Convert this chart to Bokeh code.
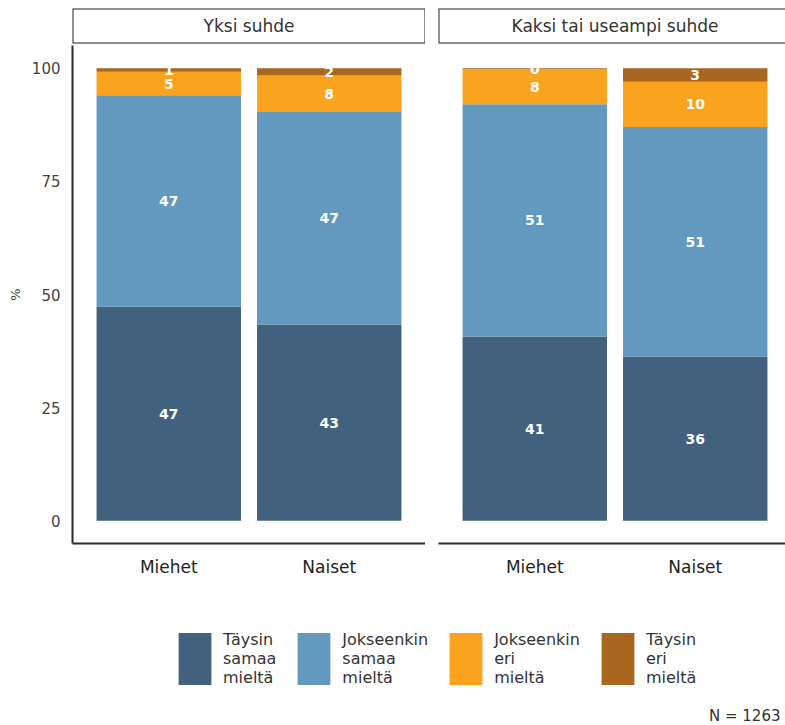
from bokeh.plotting import figure
from bokeh.layouts import column, row
from bokeh.models import (Range1d, FixedTicker, Label, Legend, LegendItem,
                          ColumnDataSource, BoxAnnotation)
from bokeh.core.properties import value
from bokeh.embed import file_html
from bokeh.resources import INLINE

# ---------------- data ----------------
groups = ["Yksi suhde", "Kaksi tai useampi suhde"]
genders = ["Miehet", "Naiset"]
categories = ["Täysin samaa mieltä", "Jokseenkin samaa mieltä",
              "Jokseenkin eri mieltä", "Täysin eri mieltä"]
colors = ["#41617f", "#6399be", "#f9a31f", "#a8661f"]

yksi_taysin_samaa = [47.3, 43.4]
yksi_jokseenkin_samaa = [46.7, 46.9]
yksi_jokseenkin_eri = [5.2, 8.1]
yksi_taysin_eri = [0.8, 1.6]

kaksi_taysin_samaa = [40.7, 36.3]
kaksi_jokseenkin_samaa = [51.3, 50.7]
kaksi_jokseenkin_eri = [7.8, 10.0]
kaksi_taysin_eri = [0.2, 3.0]

y_ticks = [0, 25, 50, 75, 100]
n_text = "N = 1263"

panel_values = [
    [yksi_taysin_samaa, yksi_jokseenkin_samaa, yksi_jokseenkin_eri, yksi_taysin_eri],
    [kaksi_taysin_samaa, kaksi_jokseenkin_samaa, kaksi_jokseenkin_eri, kaksi_taysin_eri],
]

FONT = "DejaVu Sans"
AXIS_COL = "#2b2b2b"

# ---------------- geometry ----------------
TOTAL_W = 785
TOTAL_H = 725
LEFT = 72            # y-axis area of first panel
PANEL_W = 353        # full panel frame width
GAP = 13
STRIP_TOP = 8
STRIP_FRAME = 35
STRIP_BOT = 2
STRIP_H = STRIP_TOP + STRIP_FRAME + STRIP_BOT
PLOT_FRAME_H = 498
PLOT_BOTTOM = 50
P1_W = LEFT + PANEL_W
P2_W = TOTAL_W - P1_W
P2_FRAME = P2_W - GAP
VIS = P2_FRAME / PANEL_W   # visible fraction of the 2nd panel
LEG_H = TOTAL_H - STRIP_H - PLOT_FRAME_H - PLOT_BOTTOM

X_LO, X_HI = 0.4, 2.6
keys = ["c%d" % i for i in range(len(categories))]


def make_strip(title, width, left, frac):
    s = figure(width=width, height=STRIP_H, min_border_left=left, min_border_right=0,
               min_border_top=STRIP_TOP, min_border_bottom=STRIP_BOT,
               x_range=Range1d(0, frac), y_range=Range1d(0, 1),
               x_axis_location=None, y_axis_location=None,
               toolbar_location=None, output_backend="svg", outline_line_color=None)
    s.grid.visible = False
    s.add_layout(BoxAnnotation(left=0, right=1, bottom=0, top=1, fill_color="white",
                               fill_alpha=1, line_color="#222222", line_alpha=1,
                               line_width=2))
    s.add_layout(Label(x=0.5, y=0.5, text=title, text_align="center",
                       text_baseline="middle", text_font=FONT,
                       text_font_size="17px", text_color="#333333"))
    return s


def make_panel(vals, width, left, x_hi, show_y):
    p = figure(width=width, height=PLOT_FRAME_H + PLOT_BOTTOM,
               min_border_left=left, min_border_right=0, min_border_top=0,
               min_border_bottom=PLOT_BOTTOM,
               x_range=Range1d(X_LO, x_hi), y_range=Range1d(-5, 105),
               y_axis_location="left" if show_y else None,
               toolbar_location=None, output_backend="svg", outline_line_color=None)
    p.grid.visible = False
    xs = [i + 1 for i in range(len(genders))]
    data = {"x": xs}
    for k, v in zip(keys, vals):
        data[k] = v
    src = ColumnDataSource(data)
    p.vbar_stack(keys, x="x", width=0.9, color=colors, line_color=None, source=src)

    # labels at segment midpoints
    lx, ly, lt = [], [], []
    for j, x in enumerate(xs):
        base = 0.0
        for v in vals:
            lx.append(x)
            ly.append(base + v[j] / 2)
            lt.append(str(int(round(v[j]))))
            base += v[j]
    p.text(x=lx, y=ly, text=lt, text_color="white", text_font=value(FONT),
           text_font_style="bold", text_font_size="14px",
           text_align="center", text_baseline="middle")

    xa = p.xaxis[0]
    xa.ticker = FixedTicker(ticks=xs)
    xa.major_label_overrides = {x: g for x, g in zip(xs, genders)}
    xa.major_tick_line_color = None
    xa.minor_tick_line_color = None
    xa.major_tick_out = 0
    xa.major_label_standoff = 13
    xa.axis_line_color = AXIS_COL
    xa.axis_line_width = 2
    xa.major_label_text_font = FONT
    xa.major_label_text_font_size = "17px"
    xa.major_label_text_color = "#222222"

    if show_y:
        ya = p.yaxis[0]
        ya.ticker = FixedTicker(ticks=y_ticks)
        ya.major_tick_line_color = None
        ya.minor_tick_line_color = None
        ya.major_tick_out = 0
        ya.major_label_standoff = 12
        ya.axis_line_color = AXIS_COL
        ya.axis_line_width = 2
        ya.major_label_text_font = FONT
        ya.major_label_text_font_size = "15px"
        ya.major_label_text_color = "#444444"
        ya.axis_label = "%"
        ya.axis_label_standoff = 6
        ya.axis_label_text_font = FONT
        ya.axis_label_text_font_size = "13px"
        ya.axis_label_text_font_style = "normal"
        ya.axis_label_text_color = "#444444"
    return p


s1 = make_strip(groups[0], P1_W, LEFT, 1.0)
s2 = make_strip(groups[1], P2_W, GAP, VIS)
p1 = make_panel(panel_values[0], P1_W, LEFT, X_HI, True)
p2 = make_panel(panel_values[1], P2_W, GAP, X_LO + (X_HI - X_LO) * VIS, False)

# ---------------- legend ----------------
lf = figure(width=TOTAL_W, height=LEG_H, min_border=0,
            x_range=Range1d(0, 1), y_range=Range1d(0, 1),
            x_axis_location=None, y_axis_location=None,
            toolbar_location=None, output_backend="svg", outline_line_color=None)
lf.grid.visible = False
items = []
for cat, c in zip(categories, colors):
    # zero-height dummy renderer, only used for its legend swatch
    r = lf.vbar(x=[0.5], top=[0], bottom=[0], width=0.0, color=c, line_color=None)
    items.append(LegendItem(label=cat.replace(" ", "\n"), renderers=[r]))
leg = Legend(items=items, orientation="horizontal", location=(174, 34),
             glyph_width=41, glyph_height=65, label_standoff=8, spacing=17,
             padding=0, margin=0, border_line_color=None, background_fill_alpha=0,
             label_text_font=FONT, label_text_font_size="16px",
             label_text_line_height=1.1, label_text_color="#333333", label_height=65)
lf.add_layout(leg)
lf.add_layout(Label(x=780, y=10, x_units="screen", y_units="screen", text=n_text,
                    text_align="right",
                    text_font=FONT, text_font_size="15px", text_color="#333333",
                    text_baseline="middle"))

layout = column(row(column(s1, p1), column(s2, p2)), lf)

open("out.html", "w").write(file_html(layout, INLINE))
